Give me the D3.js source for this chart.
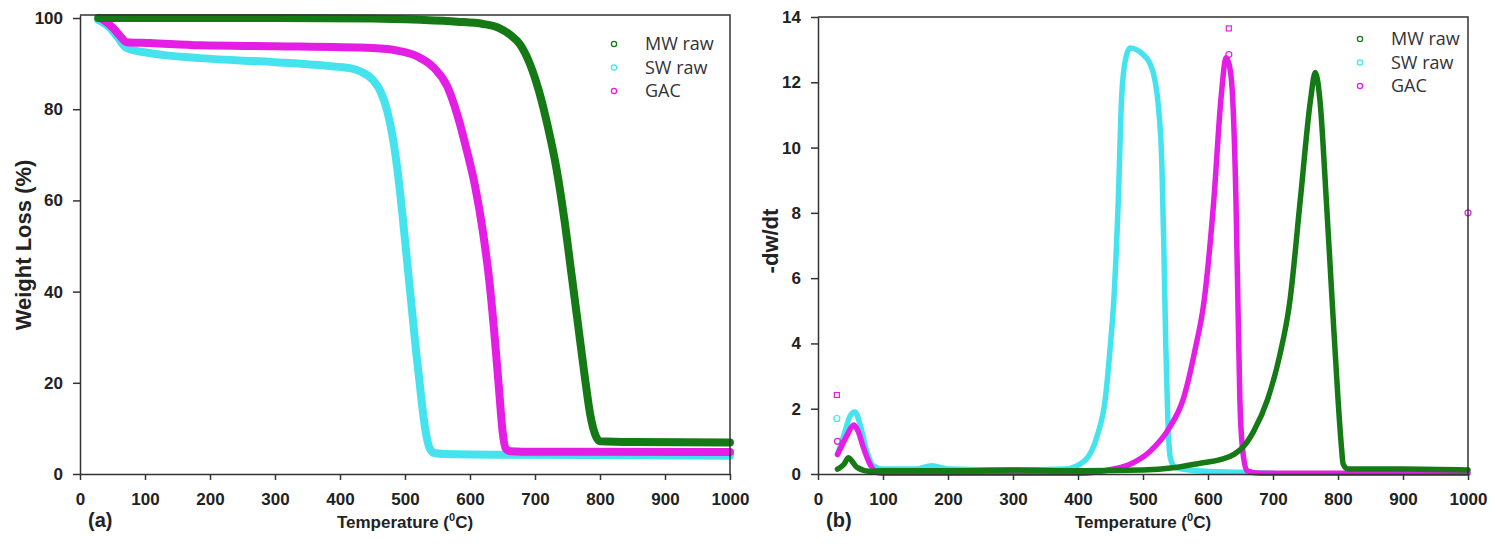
<html lang="en">
<head>
  <meta charset="utf-8">
  <title>TGA / DTG</title>
  <script src="https://d3js.org/d3.v7.min.js"></script>
  <style>
    body { margin: 0; background: white; }
    .tick text { font-family: "Liberation Sans", Arial, sans-serif; font-weight: bold; font-size: 17px; fill: #222; }
  </style>
</head>
<body>
<div id="my_dataviz"></div>
<script>

// ---- data ----
// series names and colours
var seriesNames = ["MW raw", "SW raw", "GAC"];
var seriesColors = ["#157a15", "#45e3ee", "#e41ee4"];

// (a) weight loss (%) vs temperature, [T, value]
var tgaMW = [[28,100],[100,100],[300,100],[450,99.9],[523,99.6],[580,99.2],[620,98.7],[645,97.8],[662,96.3],[677,94.2],[692,90],[706,84],[720,76],[733,67],[745,56],[756,44],[766,33],[776,22],[785,13],[793,8.5],[800,7.2],[850,7],[1000,6.9]];
var tgaSW = [[28,99.6],[45,98],[57,96],[72,93.4],[108,92.3],[185,91.2],[300,90.3],[380,89.5],[415,89],[431,88.3],[450,86.5],[462,84],[472,80],[481,74],[489,66],[496,57],[503,47],[510,37],[517,27],[524,18],[531,10],[537,6],[545,4.6],[560,4.4],[700,4.2],[1000,4.0]];
var tgaGAC = [[30,100],[40,99.2],[51,97.8],[62,96],[72,94.7],[108,94.5],[185,94],[300,93.8],[450,93.4],[490,92.8],[520,91.5],[545,89],[565,85],[580,79],[595,71],[608,63],[620,53],[630,42],[638,30],[645,18],[650,9.5],[655,5.6],[662,5],[680,4.9],[1000,4.8]];

// (b) -dw/dt vs temperature, [T, value]
var dtgMW = [[30,0.15],[40,0.3],[47,0.5],[52,0.4],[60,0.2],[80,0.08],[100,0.1],[200,0.1],[300,0.12],[400,0.1],[500,0.12],[550,0.2],[588,0.33],[620,0.45],[640,0.6],[655,0.85],[670,1.3],[692,2.3],[710,3.6],[726,5.3],[742,8.4],[758,11.5],[765,12.3],[772,11.5],[782,8.4],[791,5.3],[800,2.3],[805,0.9],[808,0.3],[815,0.15],[900,0.15],[1000,0.12]];
var dtgSW = [[30,0.6],[40,1.2],[50,1.8],[57,1.9],[65,1.5],[75,0.7],[85,0.25],[100,0.15],[150,0.15],[175,0.25],[200,0.15],[300,0.12],[380,0.15],[410,0.4],[430,1.2],[442,2.3],[450,4],[455,5.3],[462,8.4],[467,11.5],[473,12.7],[480,13.05],[490,13.0],[500,12.85],[510,12.6],[518,12.1],[524,11.2],[529,9.5],[532,7],[535,4],[538,1.8],[542,0.5],[550,0.2],[580,0.1],[650,0.05],[700,0.02]];
var dtgGAC = [[30,0.6],[35,0.8],[45,1.2],[55,1.5],[62,1.3],[70,0.8],[80,0.3],[90,0.05],[100,0.02],[400,0.02],[440,0.1],[480,0.3],[511,0.7],[540,1.4],[562,2.3],[580,3.8],[594,5.3],[609,8.4],[620,11.5],[628,12.75],[634,12.4],[638,11.5],[643,8.4],[646,5.3],[649,2.3],[653,0.8],[660,0.1],[680,0.02],[1000,0.02]];

// stray single points in (b)
var dtgOutliers = [
  {s: 1, T: 29, v: 1.7, shape: "circle"},
  {s: 2, T: 29, v: 2.42, shape: "square"},
  {s: 2, T: 30, v: 1.0, shape: "circle"},
  {s: 2, T: 632, v: 13.65, shape: "square"},
  {s: 2, T: 632, v: 12.85, shape: "circle"},
  {s: 2, T: 1000, v: 8.0, shape: "circle"}
];

// tick values
var xTicks = [0,100,200,300,400,500,600,700,800,900,1000];
var yTicksA = [0,20,40,60,80,100];
var yTicksB = [0,2,4,6,8,10,12,14];

var W = 1497, H = 548;
var svg = d3.select("#my_dataviz")
  .append("svg")
    .attr("width", W)
    .attr("height", H)
    .attr("style", "background-color:white");

var fontFam = "'Liberation Sans', Arial, sans-serif";

// draws one panel
function panel(opt) {
  var x = d3.scaleLinear().domain([0, 1000]).range([opt.left, opt.right]);
  var y = d3.scaleLinear().domain(opt.yDomain).range([opt.bottom, opt.top]);

  var g = svg.append("g");

  // curves (cyan, magenta, green order so green sits on top)
  var order = [1, 2, 0];
  order.forEach(function(k) {
    g.append("path")
      .datum(opt.series[k])
      .attr("d", d3.line()
        .x(function(d) { return x(d[0]) })
        .y(function(d) { return y(d[1]) })
        .curve(d3.curveMonotoneX))
      .attr("fill", "none")
      .attr("stroke", seriesColors[k])
      .attr("stroke-width", opt.lw)
      .attr("stroke-linejoin", "round")
      .attr("stroke-linecap", "round");
  });

  // stray points
  (opt.outliers || []).forEach(function(p) {
    if (p.shape == "square") {
      g.append("rect")
        .attr("x", x(p.T) - 2.5).attr("y", y(p.v) - 2.5)
        .attr("width", 5).attr("height", 5)
        .attr("fill", "none").attr("stroke", seriesColors[p.s]).attr("stroke-width", 1.2);
    } else {
      g.append("circle")
        .attr("cx", x(p.T)).attr("cy", y(p.v)).attr("r", 3)
        .attr("fill", "none").attr("stroke", seriesColors[p.s]).attr("stroke-width", 1.2);
    }
  });

  // frame: top and right lines
  g.append("path")
    .attr("d", "M" + opt.left + "," + opt.top + "H" + opt.right + "V" + opt.bottom)
    .attr("fill", "none").attr("stroke", "#333").attr("stroke-width", 1.5);

  // axes
  var xa = g.append("g")
    .attr("transform", "translate(0," + opt.bottom + ")")
    .call(d3.axisBottom(x).tickValues(xTicks).tickFormat(d3.format("d"))
      .tickSize(6).tickPadding(13).tickSizeOuter(0));
  var ya = g.append("g")
    .attr("transform", "translate(" + opt.left + ",0)")
    .call(d3.axisLeft(y).tickValues(opt.yTicks).tickFormat(d3.format("d"))
      .tickSize(7).tickPadding(10).tickSizeOuter(0));
  [xa, ya].forEach(function(a) {
    a.select(".domain").attr("stroke", "#333").attr("stroke-width", 1.5);
    a.selectAll(".tick line").attr("stroke", "#333").attr("stroke-width", 1.5);
  });

  // x title with superscript
  var xt = g.append("text")
    .attr("x", (opt.left + opt.right) / 2)
    .attr("y", 528)
    .attr("text-anchor", "middle")
    .style("font-family", fontFam).style("font-weight", "bold").style("font-size", "17px")
    .attr("fill", "#222");
  xt.append("tspan").text("Temperature (");
  xt.append("tspan").attr("dy", -7).style("font-size", "11px").text("0");
  xt.append("tspan").attr("dy", 7).text("C)");

  // y title
  g.append("text")
    .attr("transform", "translate(" + opt.yTitleX + "," + opt.yTitleY + ") rotate(-90)")
    .attr("text-anchor", "middle")
    .style("font-family", fontFam).style("font-weight", "bold").style("font-size", "22px")
    .attr("fill", "#222")
    .text(opt.yTitle);

  // panel letter
  g.append("text")
    .attr("x", opt.left + 8)
    .attr("y", 527)
    .style("font-family", fontFam).style("font-weight", "bold").style("font-size", "20px")
    .attr("fill", "#222")
    .text(opt.letter);

  // legend
  seriesNames.forEach(function(name, i) {
    var ly = opt.legY + i * 23.5;
    g.append("circle")
      .attr("cx", opt.legX).attr("cy", ly).attr("r", 2.6)
      .attr("fill", "none").attr("stroke", seriesColors[i]).attr("stroke-width", 1.3);
    g.append("text")
      .attr("x", opt.legX + 31).attr("y", ly)
      .attr("dy", "0.35em")
      .style("font-family", "'Open Sans', 'Liberation Sans', Arial, sans-serif").style("font-size", "18px")
      .attr("fill", "#333")
      .text(name);
  });
}

panel({
  left: 80, right: 730, top: 15, bottom: 474,
  yDomain: [0, 100.66], yTicks: yTicksA,
  series: [tgaMW, tgaSW, tgaGAC], lw: 8,
  yTitle: "Weight Loss (%)", yTitleX: 31, yTitleY: 245, letter: "(a)",
  legX: 614, legY: 44
});

panel({
  left: 818, right: 1468, top: 17, bottom: 474,
  yDomain: [0, 14], yTicks: yTicksB,
  series: [dtgMW, dtgSW, dtgGAC], lw: 5.5, outliers: dtgOutliers,
  yTitle: "-dw/dt", yTitleX: 778, yTitleY: 241, letter: "(b)",
  legX: 1360, legY: 39
});

</script>
</body>
</html>
